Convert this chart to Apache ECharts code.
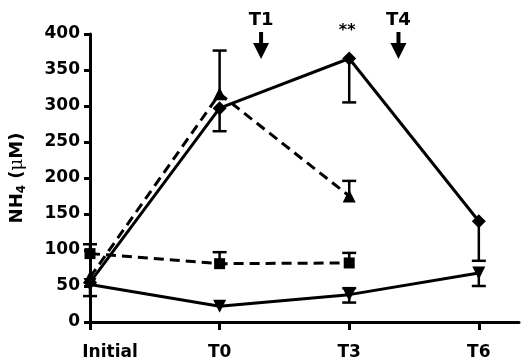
<!DOCTYPE html>
<html><head><meta charset="utf-8">
<script src="https://cdn.jsdelivr.net/npm/echarts@6/dist/echarts.min.js"></script>
<style>html,body{margin:0;padding:0;background:#fff}#c{width:521px;height:364px}</style>
</head><body><div id="c"></div>
<script>
const categories = ['Initial', 'T0', 'T3', 'T6'];
const categoryX = [0, 1, 2, 3];
const yTicks = [0, 50, 100, 150, 200, 250, 300, 350, 400];
const diamondVals = [55, 297, 366, 140];
const triangleVals = [62, 317, 175];
const squareVals = [95, 81, 82];
const invTriVals = [52, 22, 38, 68];
// error bar end points (per category; null = none drawn)
const diamondErrEnd = [36, 265, 305, 85];
const triangleErrEnd = [null, 377, 196];
const squareErrEnd = [108, 97, 96];
const invTriErrLow = [null, null, 27, 50];
const invTriErrHigh = [null, null, 47, null];
const arrowLabels = ['T1', 'T4'];
const arrowX = [1.32, 2.38];
const starLabel = '**';
const starX = 2;

const FONT = '"DejaVu Sans", sans-serif';

function errData(vals, ends) {
  const out = [];
  ends.forEach((e, i) => { if (e != null) out.push([categoryX[i], vals[i], e]); });
  return out;
}
const errorData = [].concat(
  errData(diamondVals, diamondErrEnd),
  errData(triangleVals, triangleErrEnd),
  errData(squareVals, squareErrEnd),
  errData(invTriVals, invTriErrLow),
  errData(invTriVals, invTriErrHigh)
);

function pts(vals) { return vals.map((v, i) => [categoryX[i], v]); }

const chart = echarts.init(document.getElementById('c'));
const lineBase = {
  type: 'line', color: '#000', clip: false, animation: false,
  itemStyle: { color: '#000' }
};
const lblStyle = { fontFamily: FONT, fontWeight: 'bold', fontSize: 17, color: '#000' };
chart.setOption({
  animation: false,
  backgroundColor: '#fff',
  grid: { left: 90, right: 2, top: 34, bottom: 42, containLabel: false, outerBoundsMode: 'none' },
  xAxis: {
    type: 'value', min: 0, max: 3.31, interval: 1,
    splitLine: { show: false },
    axisLine: { onZero: false, lineStyle: { color: '#000', width: 3 } },
    axisTick: { customValues: categoryX, length: 8, lineStyle: { color: '#000', width: 3 } },
    axisLabel: {
      customValues: categoryX, margin: 22,
      formatter: v => {
        const i = Math.round(v);
        if (!categories[i]) return '';
        return i === 0 ? '{f|' + categories[i] + '}' : '{n|' + categories[i] + '}';
      },
      rich: {
        f: Object.assign({ padding: [0, 0, 0, 40] }, lblStyle),
        n: lblStyle
      }
    }
  },
  yAxis: {
    type: 'value', min: 0, max: 400, interval: 50,
    splitLine: { show: false },
    axisLine: { show: true, lineStyle: { color: '#000', width: 3 } },
    axisTick: { show: true, length: 6, lineStyle: { color: '#000', width: 3 } },
    axisLabel: { margin: 10, color: '#000', fontFamily: FONT, fontWeight: 'bold', fontSize: 17 },
    name: '{a|NH}{s|4}{a| (}{m|μ}{a|M)}',
    nameLocation: 'middle', nameGap: 62, nameRotate: 90,
    nameTextStyle: {
      rich: {
        a: { fontFamily: FONT, fontWeight: 'bold', fontSize: 18, color: '#000', lineHeight: 22 },
        s: { fontFamily: FONT, fontWeight: 'bold', fontSize: 12, color: '#000', lineHeight: 22, padding: [10, 0, 0, 0] },
        m: { fontFamily: '"DejaVu Serif", serif', fontSize: 18, color: '#000', lineHeight: 22 }
      }
    }
  },
  series: [
    {
      type: 'custom', clip: false, z: 1, data: errorData,
      renderItem: (params, api) => {
        const x = api.value(0);
        const a = api.coord([x, api.value(1)]);
        const b = api.coord([x, api.value(2)]);
        const st = { stroke: '#000', lineWidth: 2.5 };
        return { type: 'group', children: [
          { type: 'line', shape: { x1: a[0], y1: a[1], x2: b[0], y2: b[1] }, style: st },
          { type: 'line', shape: { x1: b[0] - 7, y1: b[1], x2: b[0] + 7, y2: b[1] }, style: st }
        ]};
      }
    },
    Object.assign({}, lineBase, { data: pts(diamondVals), symbol: 'diamond', symbolSize: 14,
      lineStyle: { color: '#000', width: 3, type: 'solid' }, z: 3 }),
    Object.assign({}, lineBase, { data: pts(triangleVals), symbol: 'triangle', symbolSize: 13,
      lineStyle: { color: '#000', width: 3, type: [10, 6] }, z: 3 }),
    Object.assign({}, lineBase, { data: pts(squareVals), symbol: 'rect', symbolSize: 11,
      lineStyle: { color: '#000', width: 3, type: [10, 6] }, z: 3 }),
    Object.assign({}, lineBase, { data: pts(invTriVals), symbol: 'triangle', symbolRotate: 180, symbolSize: 13,
      lineStyle: { color: '#000', width: 3, type: 'solid' }, z: 3 }),
    {
      type: 'custom', clip: false, z: 4,
      data: arrowX.map((x, i) => [x, i]),
      renderItem: (params, api) => {
        const p = api.coord([api.value(0), 400]);
        const label = arrowLabels[api.value(1)];
        return { type: 'group', children: [
          { type: 'text', style: { text: label, x: p[0], y: p[1] - 14, align: 'center', verticalAlign: 'middle',
              fill: '#000', font: 'bold 18px ' + FONT } },
          { type: 'line', shape: { x1: p[0], y1: p[1] - 2, x2: p[0], y2: p[1] + 12 }, style: { stroke: '#000', lineWidth: 4 } },
          { type: 'polygon', shape: { points: [[p[0] - 8, p[1] + 9], [p[0] + 8, p[1] + 9], [p[0], p[1] + 25]] },
              style: { fill: '#000' } }
        ]};
      }
    },
    {
      type: 'custom', clip: false, z: 4,
      data: [[starX, 400]],
      renderItem: (params, api) => {
        const p = api.coord([api.value(0), api.value(1)]);
        return { type: 'text', style: { text: starLabel, x: p[0] - 2, y: p[1] - 3, align: 'center', verticalAlign: 'middle',
          fill: '#000', font: 'bold 16px ' + FONT } };
      }
    }
  ]
});
</script>
</body></html>
